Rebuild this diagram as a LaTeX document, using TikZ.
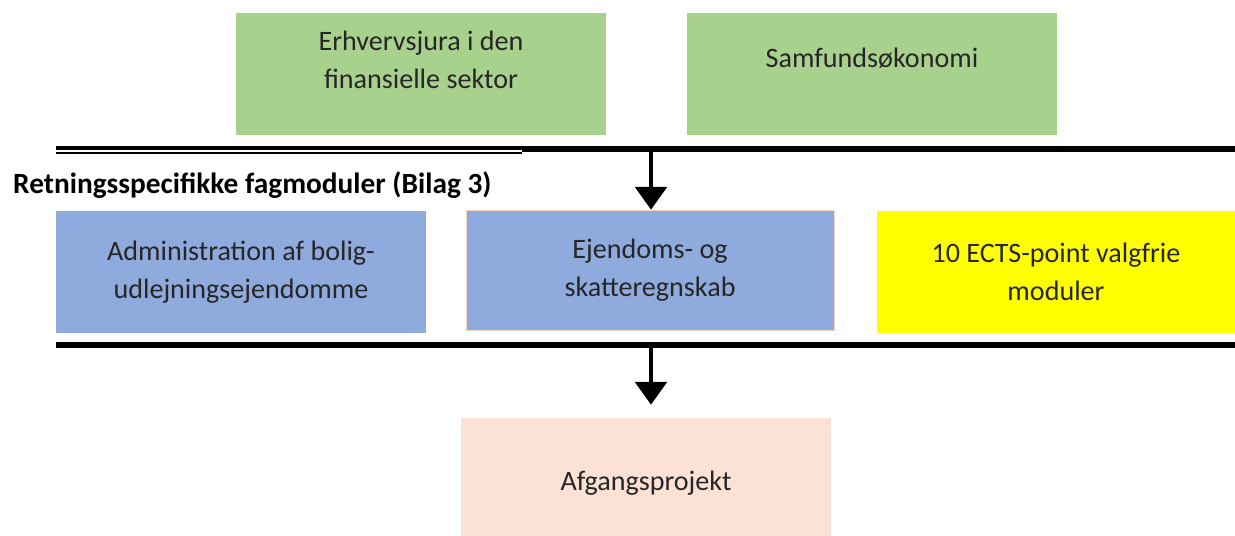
\documentclass[tikz,border=0pt]{standalone}
\usepackage{fontspec}
\setmainfont{Carlito}
\usetikzlibrary{arrows.meta,positioning}
\definecolor{modgreen}{HTML}{A9D18E}
\definecolor{modblue}{HTML}{8FAADC}
\definecolor{modyellow}{HTML}{FFFF00}
\definecolor{modpeach}{HTML}{FBE2D5}
\definecolor{modedge}{HTML}{F8D5C0}
\definecolor{modtext}{HTML}{262626}
\begin{document}
\begin{tikzpicture}[x=0.02cm, y=-0.02cm,
    modbox/.style={rectangle, inner sep=0pt, minimum width=7.4cm, minimum height=2.44cm},
    modtxt/.style={text=modtext, align=center, font=\fontsize{16}{22}\selectfont},
    bar/.style={line width=3.3pt},
    flow/.style={line width=2.3pt, -{Triangle[width=18pt,length=13pt]}}]
    \useasboundingbox (0,0) rectangle (1235,535);
    % first semester
    \node[modbox,fill=modgreen] (erhverv) at (421,74) {};
    \node[modtxt] at (421,60) {Erhvervsjura i den\\finansielle sektor};
    \node[modbox,fill=modgreen] (samf) at (872,74) {};
    \node[modtxt] at (872,58) {Samfundsøkonomi};
    \draw[bar] (522,149) -- (1235,149);
    \draw[line width=1.9pt] (56,148) -- (522,148);
    \draw[line width=0.7pt] (56,153) -- (522,153);
    \coordinate (top) at (651,149);
    \node[font=\fontsize{16.7}{20}\selectfont\bfseries, anchor=west] (heading) at (7,185) {Retningsspecifikke fagmoduler (Bilag 3)};
    % second semester
    \node[modbox,modtxt,fill=modblue,minimum height=2.46cm] (admin) at (241,272) {Administration af bolig-\\udlejningsejendomme};
    \node[modbox,modtxt,fill=modblue,draw=modedge,minimum width=7.36cm,minimum height=2.4cm] (ejendom) at (650,270) {Ejendoms- og\\skatteregnskab};
    \node[modbox,modtxt,fill=modyellow,minimum width=7.16cm,minimum height=2.46cm] (valg) at (1056,272) {10 ECTS-point valgfrie\\moduler};
    \draw[flow] (top) -- (ejendom.north -| top);
    \draw[bar] (56,345) -- (1235,345);
    \coordinate (bottom) at (651,345);
    % final project
    \node[modbox,modtxt,fill=modpeach,minimum height=2.6cm] (afgang) at (646,483) {Afgangsprojekt};
    \draw[flow, shorten >=7.4pt] (bottom) -- (afgang.north -| bottom);
\end{tikzpicture}
\end{document}
